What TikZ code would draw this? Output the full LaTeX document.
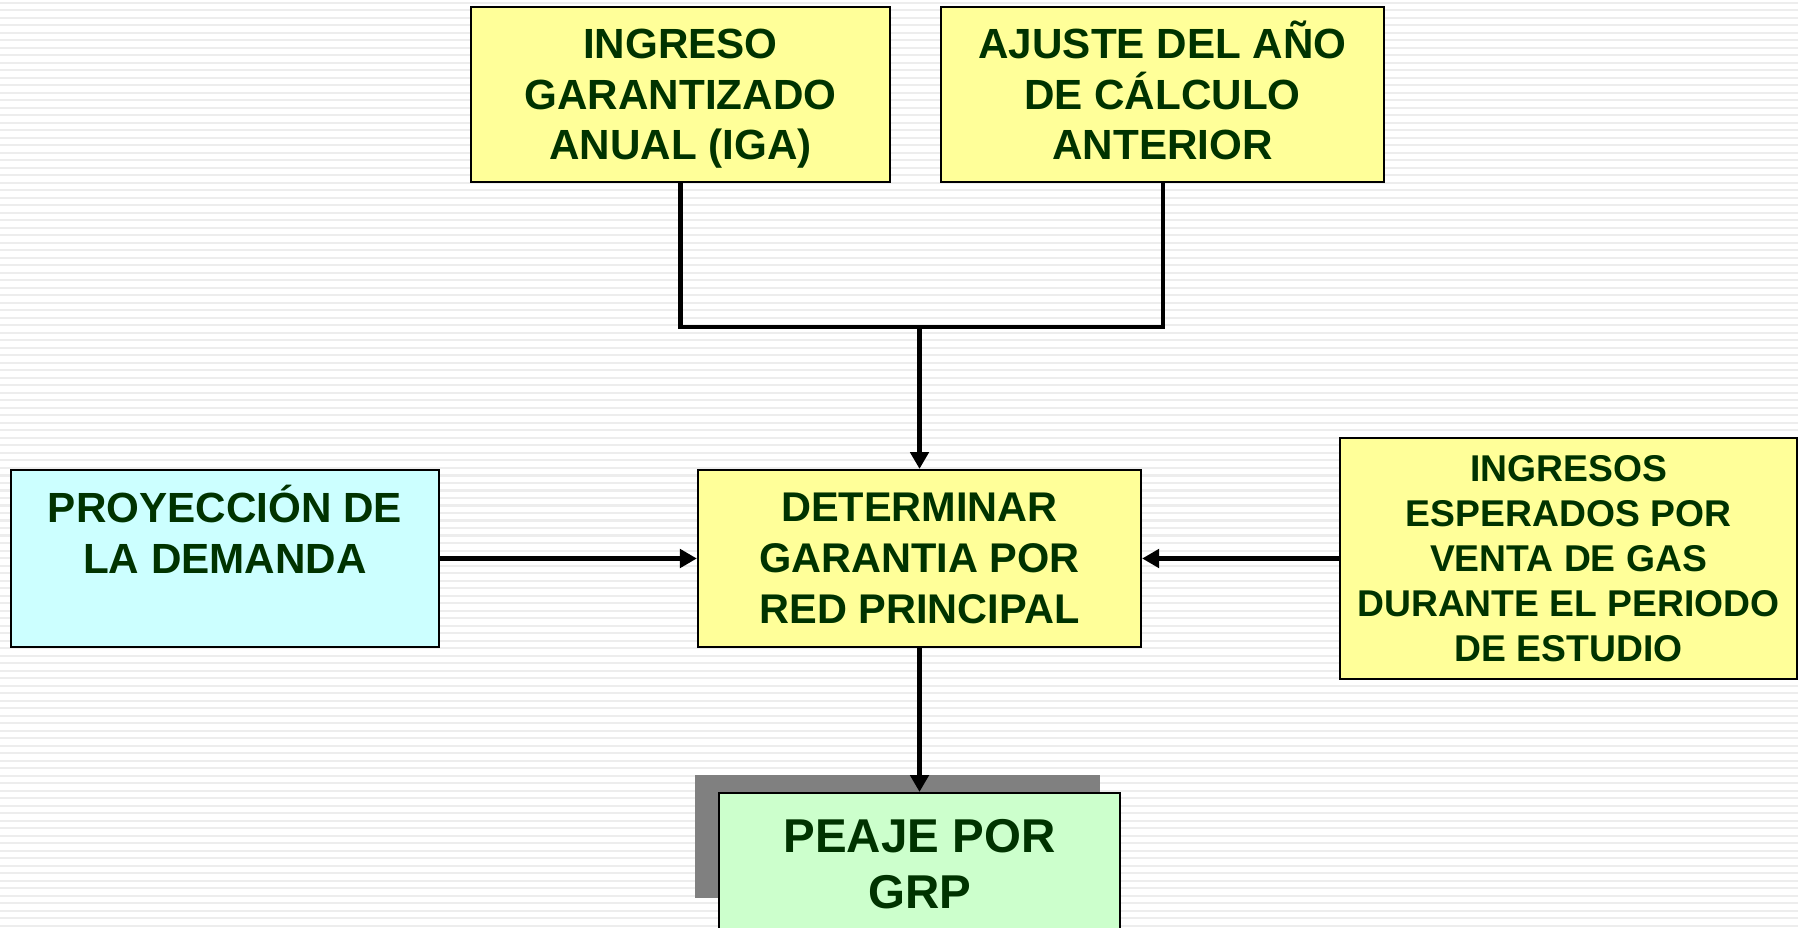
\documentclass[tikz,border=0pt]{standalone}
\usepackage{fontspec}
\setmainfont{Liberation Sans}
\usetikzlibrary{arrows.meta}
\definecolor{txtgreen}{HTML}{003300}
\definecolor{boxyellow}{HTML}{FFFF99}
\definecolor{boxcyan}{HTML}{CCFFFF}
\definecolor{boxgreen}{HTML}{CCFFCC}
\definecolor{shadowgray}{HTML}{808080}
\definecolor{stripe}{HTML}{EDEDED}
\tikzset{
  box/.style={draw=black, line width=0.6pt, inner sep=0pt, align=center, text=txtgreen,
    font=\bfseries\fontsize{12}{14.3}\selectfont},
  link/.style={line width=1.15pt},
  arrow/.style={link, -{Triangle[width=5.2pt,length=4.8pt]}}
}
\begin{document}
\begin{tikzpicture}[x=0.01cm, y=-0.01cm]
\useasboundingbox (0,0) rectangle (1798,928);
\fill[white] (0,0) rectangle (1798,928);
\foreach \k in {0,...,123}
  \draw[stripe, line width=0.02cm] (0,3+7.5*\k) -- (1798,3+7.5*\k);
\node[box, fill=boxyellow, minimum width=4.19cm, minimum height=1.75cm] (iga) at (680.5,94.5) {INGRESO\\GARANTIZADO\\ANUAL \smash{(IGA)}};
\node[box, fill=boxyellow, minimum width=4.43cm, minimum height=1.75cm] (ajuste) at (1162.5,94.5) {AJUSTE DEL A\smash{Ñ}O\\DE CÁLCULO\\ANTERIOR};
\node[box, fill=boxyellow, minimum width=4.43cm, minimum height=1.77cm, font=\bfseries\fontsize{11.8}{14.5}\selectfont] (garantia) at (919.5,558.5) {DETERMINAR\\GARANTIA POR\\RED PRINCIPAL};
\node[box, fill=boxcyan, minimum width=4.28cm, minimum height=1.77cm, font=\bfseries\fontsize{12}{14.5}\selectfont] (demanda) at (225,558.5) {PROYECCI\smash{Ó}N DE\\LA DEMANDA\\\mbox{}};
\node[box, fill=boxyellow, minimum width=4.57cm, minimum height=2.40cm, font=\bfseries\fontsize{10.6}{12.8}\selectfont] (ingresos) at (1568.5,558.5) {INGRESOS\\ESPERADOS POR\\VENTA DE GAS\\DURANTE EL PERIODO\\DE ESTUDIO};
\fill[shadowgray] (695,775) rectangle (1100,898);
\node[box, fill=boxgreen, minimum width=4.01cm, minimum height=1.42cm, font=\bfseries\fontsize{13.5}{15.9}\selectfont] (peaje) at (919.5,864) {PEAJE POR\\GRP};
\coordinate (join) at (919.5,327);
\draw[link] (iga.south) |- (join) -| (ajuste.south);
\draw[arrow] (join) -- (garantia.north);
\draw[arrow] (demanda.east) -- (garantia.west);
\draw[arrow] (ingresos.west) -- (garantia.east);
\draw[arrow] (garantia.south) -- (peaje.north);
\end{tikzpicture}
\end{document}
